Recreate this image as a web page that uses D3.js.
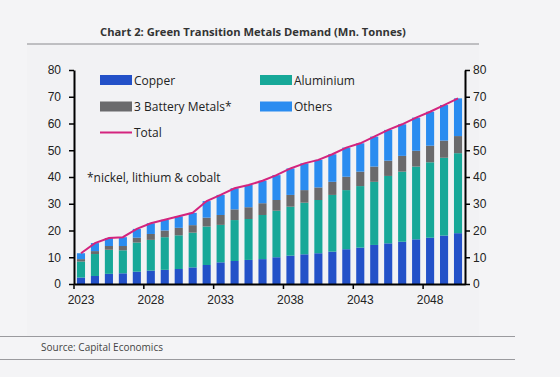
<!DOCTYPE html>
<html>
<head>
<meta charset="utf-8">
<script src="https://cdn.jsdelivr.net/npm/d3@7"></script>
<style>
  body { margin: 0; background: #f4f4f6; }
  svg { display: block; font-family: 'Open Sans', sans-serif; }
  .ejes text { font-size: 12px; fill: #222; }
</style>
</head>
<body>
<div id="graf"></div>
<script>
// data (Mn. tonnes)
const years = d3.range(2023, 2051)
const copper = [2.4, 3.0, 3.8, 4.0, 4.6, 5.0, 5.3, 5.6, 6.2, 7.1, 8.1, 8.6, 9.0, 9.3, 10.0,
  10.6, 11.1, 11.5, 12.1, 13.0, 13.6, 14.6, 15.2, 15.8, 16.7, 17.3, 18.1, 19.0]
const aluminium = [6.0, 8.2, 9.0, 8.6, 10.9, 11.5, 12.2, 12.6, 13.0, 14.4, 14.0, 15.3, 15.3, 16.5, 17.4,
  18.3, 19.3, 19.9, 21.2, 22.1, 23.0, 23.6, 25.2, 26.2, 27.2, 28.2, 29.1, 29.9]
const battery = [0.9, 1.1, 1.4, 1.6, 1.8, 2.2, 2.5, 2.8, 2.8, 3.3, 3.7, 4.0, 4.4, 4.4, 4.0,
  4.4, 4.7, 4.7, 4.9, 5.0, 5.4, 5.7, 5.7, 5.9, 5.9, 6.2, 6.4, 6.4]
const others = [2.2, 3.0, 3.0, 3.3, 3.3, 4.0, 4.0, 4.3, 4.6, 6.2, 7.5, 7.9, 8.3, 8.4, 9.3,
  9.9, 10.0, 10.3, 10.3, 10.9, 10.6, 11.2, 11.5, 11.8, 12.4, 12.7, 13.3, 14.1]
const yTicks = [0, 10, 20, 30, 40, 50, 60, 70, 80]
const xTicks = [2023, 2028, 2033, 2038, 2043, 2048]

const series = [
  { key: 'copper', label: 'Copper', color: '#2351c8' },
  { key: 'aluminium', label: 'Aluminium', color: '#17a898' },
  { key: 'battery', label: '3 Battery Metals*', color: '#6a6a6c' },
  { key: 'others', label: 'Others', color: '#2a8cf0' },
]

const tabla = years.map((yr, i) => ({
  year: yr, copper: copper[i], aluminium: aluminium[i], battery: battery[i], others: others[i]
}))

const anchoTotal = 560
const altoTotal = 377
const margin = { top: 70, bottom: 93, left: 74, right: 95 }
const ancho = anchoTotal - margin.left - margin.right
const alto = altoTotal - margin.top - margin.bottom

const svg = d3.select('#graf')
  .append('svg')
  .attr('width', anchoTotal)
  .attr('height', altoTotal)

// panel + title
svg.append('rect')
  .attr('x', 27).attr('y', 44).attr('width', 452).attr('height', 293)
  .attr('fill', '#f2f2f4')

svg.append('text')
  .attr('x', 253).attr('y', 36)
  .attr('text-anchor', 'middle')
  .attr('font-size', 11.2)
  .attr('font-weight', 'bold')
  .attr('fill', '#333')
  .text('Chart 2: Green Transition Metals Demand (Mn. Tonnes)')

svg.append('line')
  .attr('x1', 27).attr('x2', 479).attr('y1', 44).attr('y2', 44)
  .attr('stroke', '#8a8a8e').attr('stroke-width', 1)

svg.selectAll('.sep').data([336.5, 359.5]).enter()
  .append('line')
  .attr('x1', 0).attr('x2', 515).attr('y1', d => d).attr('y2', d => d)
  .attr('stroke', '#9a9a9e').attr('stroke-width', 1)

svg.append('text')
  .attr('x', 41).attr('y', 351)
  .attr('font-size', 10)
  .attr('fill', '#444')
  .text('Source: Capital Economics')

const g = svg.append('g')
  .attr('transform', `translate(${margin.left}, ${margin.top})`)

const x = d3.scaleBand()
  .domain(years)
  .range([0, ancho])

const y = d3.scaleLinear()
  .domain([0, 80])
  .range([alto, 0])

const stack = d3.stack().keys(series.map(s => s.key))
const capas = stack(tabla)

const barW = x.bandwidth() * 0.58

g.selectAll('.capa')
  .data(capas)
  .enter()
  .append('g')
  .attr('fill', (d, i) => series[i].color)
  .selectAll('rect')
  .data(d => d)
  .enter()
  .append('rect')
  .attr('x', d => x(d.data.year) + (x.bandwidth() - barW) / 2)
  .attr('y', d => y(d[1]))
  .attr('width', barW)
  .attr('height', d => y(d[0]) - y(d[1]))

// total line through bar tops
const capaTop = capas[capas.length - 1]
const linea = d3.line()
  .x(d => x(d.data.year) + x.bandwidth() / 2)
  .y(d => y(d[1]))

g.append('path')
  .datum(capaTop)
  .attr('d', linea)
  .attr('fill', 'none')
  .attr('stroke', '#d4247e')
  .attr('stroke-width', 2)

// axes
const yAxisL = g.append('g').attr('class', 'ejes')
  .call(d3.axisLeft(y).tickValues(yTicks).tickSize(5).tickPadding(8).tickSizeOuter(0))
const yAxisR = g.append('g').attr('class', 'ejes')
  .attr('transform', `translate(${ancho}, 0)`)
  .call(d3.axisRight(y).tickValues(yTicks).tickSize(5).tickPadding(3).tickSizeOuter(0))

const xAxis = g.append('g').attr('class', 'ejes')
  .attr('transform', `translate(0, ${alto})`)
  .call(d3.axisBottom(x).tickValues(xTicks).tickSize(5).tickPadding(6).tickSizeOuter(0))

xAxis.selectAll('.tick line')
  .attr('x1', -x.bandwidth() / 2)
  .attr('x2', -x.bandwidth() / 2)

g.selectAll('.ejes .domain').attr('stroke', '#000').attr('stroke-width', 2)
g.selectAll('.ejes .tick line').attr('stroke', '#000').attr('stroke-width', 1.5)

// legend
const leg = svg.append('g').attr('font-size', 12).attr('fill', '#222')
const legPos = [
  { s: series[0], lx: 100, ly: 80 },
  { s: series[1], lx: 260, ly: 80 },
  { s: series[2], lx: 100, ly: 106.5 },
  { s: series[3], lx: 260, ly: 106.5 },
]
legPos.forEach(p => {
  leg.append('rect')
    .attr('x', p.lx).attr('y', p.ly - 5).attr('width', 32).attr('height', 10)
    .attr('fill', p.s.color)
  leg.append('text')
    .attr('x', p.lx + 34).attr('y', p.ly + 4.5)
    .text(p.s.label)
})
leg.append('line')
  .attr('x1', 100).attr('x2', 132).attr('y1', 132.5).attr('y2', 132.5)
  .attr('stroke', '#d4247e').attr('stroke-width', 2)
leg.append('text')
  .attr('x', 134).attr('y', 137)
  .text('Total')

svg.append('text')
  .attr('x', 87).attr('y', 181.5)
  .attr('font-size', 12)
  .attr('fill', '#222')
  .text('*nickel, lithium & cobalt')
</script>
</body>
</html>
